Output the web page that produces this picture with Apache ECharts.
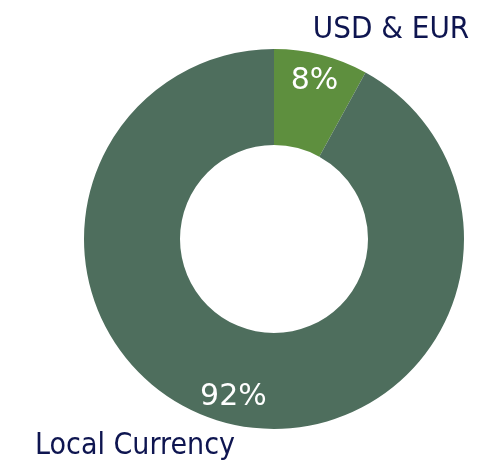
<!DOCTYPE html>
<html>
<head>
<meta charset="utf-8">
<script src="https://cdn.jsdelivr.net/npm/echarts@6/dist/echarts.min.js"></script>
<style>
  html, body { margin: 0; padding: 0; background: #fff; }
  #chart { width: 478px; height: 463px; }
</style>
</head>
<body>
<div id="chart"></div>
<script>
  // currency split
  var categories = ['USD & EUR', 'Local Currency'];
  var shares = [8, 92];
  var colors = ['#5E8F3E', '#4E6E5D'];
  // where the name labels sit, and their sizes
  var namePos = [[391, 30], [135, 446]];
  var nameSize = [31, 30];

  var data = categories.map(function (name, i) {
    return {
      name: name,
      value: shares[i],
      itemStyle: { color: colors[i] },
      label: { fontSize: nameSize[i] }
    };
  });

  var chart = echarts.init(document.getElementById('chart'));
  chart.setOption({
    animation: false,
    series: [
      {
        type: 'pie',
        center: [274, 239],
        radius: [94, 190],
        startAngle: 90,
        clockwise: true,
        silent: true,
        itemStyle: { borderWidth: 0 },
        label: {
          show: true,
          position: 'outside',
          formatter: '{b}',
          color: '#0E1550',
          fontFamily: 'DejaVu Sans Condensed',
          overflow: 'none'
        },
        labelLine: { show: false },
        labelLayout: function (params) {
          var p = namePos[params.dataIndex];
          return { x: p[0], y: p[1], align: 'center', verticalAlign: 'middle' };
        },
        data: data
      },
      {
        // carrier for the percentage labels, placed mid-ring
        type: 'pie',
        center: [274, 239],
        radius: [130, 190],
        startAngle: 90,
        clockwise: true,
        silent: true,
        itemStyle: { color: 'rgba(0,0,0,0)', borderWidth: 0 },
        label: {
          show: true,
          position: 'inside',
          formatter: '{c}%',
          color: '#ffffff',
          fontFamily: 'DejaVu Sans',
          fontSize: 30,
          overflow: 'none'
        },
        labelLine: { show: false },
        data: categories.map(function (name, i) {
          return { name: name, value: shares[i] };
        })
      }
    ]
  });
</script>
</body>
</html>
